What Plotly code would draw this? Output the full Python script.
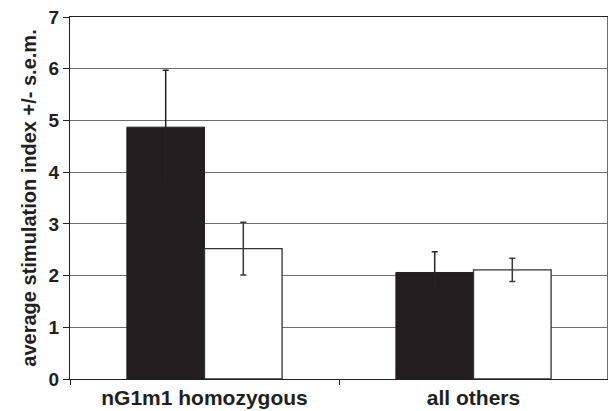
import plotly.graph_objects as go

categories = ["nG1m1 homozygous", "all others"]
black_values = [4.87, 2.06]
black_sem = [1.10, 0.40]
white_values = [2.52, 2.11]
white_sem = [0.51, 0.225]
y_ticks = [0, 1, 2, 3, 4, 5, 6, 7]

fig = go.Figure()
fig.add_trace(go.Bar(
    x=categories, y=black_values,
    marker=dict(color="#231f20", line=dict(color="#231f20", width=1)),
    error_y=dict(type="data", array=black_sem, color="#262223", thickness=1.5, width=3),
    showlegend=False,
))
fig.add_trace(go.Bar(
    x=categories, y=white_values,
    marker=dict(color="white", line=dict(color="#333333", width=1.3)),
    error_y=dict(type="data", array=white_sem, color="#3a3a3a", thickness=1.5, width=3),
    showlegend=False,
))

# The page body has an 8px default margin, so the figure is sized to fit the window.
font_family = "Liberation Sans"
fig.update_layout(
    width=608, height=403,
    margin=dict(l=62, r=8, t=9, b=32),
    paper_bgcolor="white", plot_bgcolor="white",
    barmode="group", bargap=0.423, bargroupgap=0,
    font=dict(family=font_family, color="#231f20"),
    xaxis=dict(
        showline=True, linecolor="#231f20", linewidth=1.3, mirror=True,
        ticks="outside", tickson="boundaries", ticklen=5, tickcolor="#231f20",
        tickfont=dict(size=21, family=font_family),
        tickvals=categories, ticktext=["<b>%s</b>" % c for c in categories],
        showgrid=False, automargin=False,
    ),
    yaxis=dict(
        range=[0, 7], tickvals=y_ticks, ticktext=["<b>%d</b>" % t for t in y_ticks],
        showline=True, linecolor="#231f20", linewidth=1.3,
        ticks="outside", ticklen=6, tickcolor="#231f20",
        tickfont=dict(size=19, family=font_family),
        ticklabeloverflow="allow",
        showgrid=True, gridcolor="#6e6e6e", gridwidth=1.3,
        zeroline=False, automargin=False,
        title=dict(text="<b>average stimulation index +/- s.e.m.</b>",
                   font=dict(size=20, family=font_family),
                   standoff=6),
    ),
    shapes=[
        dict(type="line", xref="paper", yref="paper", x0=1, x1=1, y0=0, y1=1,
             line=dict(color="#6e6e6e", width=2)),
    ],
)

fig.write_html("out.html")
